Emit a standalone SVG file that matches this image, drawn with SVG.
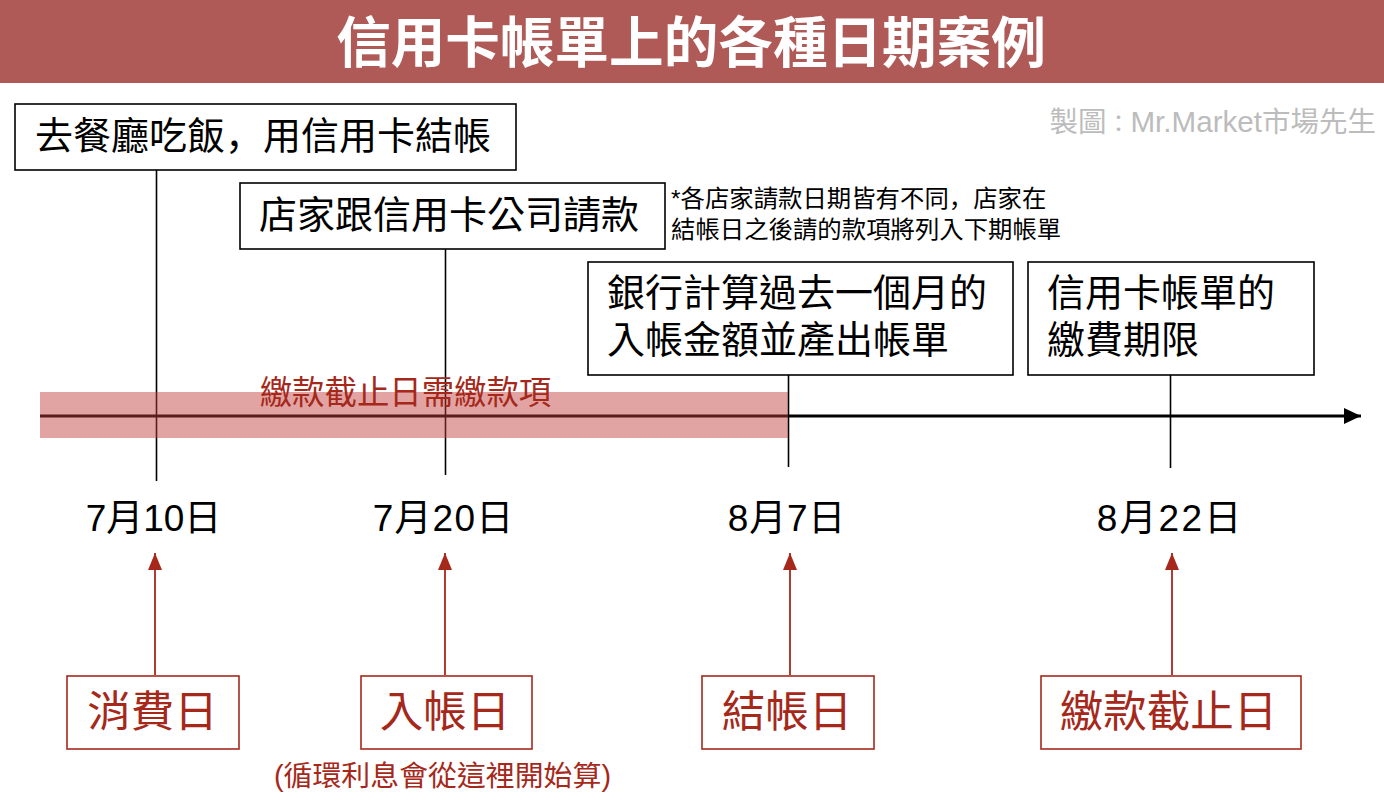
<svg xmlns="http://www.w3.org/2000/svg" width="1384" height="804" viewBox="0 0 1384 804">
<defs>
<marker id="ab" markerUnits="userSpaceOnUse" markerWidth="18" markerHeight="16" refX="17" refY="8" orient="auto"><path d="M0 0L17 8L0 16Z" fill="#000"/></marker>
<marker id="ar" markerUnits="userSpaceOnUse" markerWidth="18" markerHeight="14" refX="17" refY="7" orient="auto"><path d="M0 0L17 7L0 14Z" fill="#a5281b"/></marker>
</defs>
<style>
text{font-family:"Liberation Sans","Noto Sans CJK TC",sans-serif}
.b{fill:#fff;stroke:#000;stroke-width:1.6}
.r{fill:#fff;stroke:#a5281b;stroke-width:1.6}
.t{font-size:38px;fill:#000}
.d{font-size:37px;fill:#000;text-anchor:middle}
.l{font-size:43.500px;fill:#a5281b;text-anchor:middle}
.n{font-size:24.400px;fill:#000}
.k{stroke:#000;stroke-width:1.6;fill:none}
.q{stroke:#a5281b;stroke-width:1.8;fill:none;marker-end:url(#ar)}
.c{font-family:"Noto Sans CJK JP",sans-serif}
</style>
<rect width="1384" height="804" fill="#fff"/>
<g id="title"><rect width="1384" height="83" fill="#b05a57"/><text x="691" y="62" font-size="54.600" font-weight="700" fill="#fff" text-anchor="middle">信用卡帳單上的各種日期案例</text></g>
<text id="credit" x="1376" y="132" font-size="28.500" fill="#bcbcbc" text-anchor="end">製圖<tspan font-size="24">：</tspan><tspan font-size="29.600">Mr.Market</tspan>市場先生</text>
<g id="connectors">
<path d="M40 416H1361" stroke="#000" stroke-width="2.800" fill="none" marker-end="url(#ab)"/>
<path class="k" d="M156.500 170V481"/>
<path class="k" d="M445.500 249V475"/>
<path class="k" d="M788.500 375V467"/>
<path class="k" d="M1170.500 375V468"/>
<path class="q" d="M155 675V553"/>
<path class="q" d="M445 675V553"/>
<path class="q" d="M790 675V553"/>
<path class="q" d="M1172 675V553"/>
</g>
<g id="band"><rect x="40" y="392" width="748" height="46" fill="#bf3e39" fill-opacity="0.470"/><text x="405.500" y="404" font-size="32.400" fill="#a5281b" text-anchor="middle">繳款截止日需繳款項</text></g>
<g id="node-meal"><rect class="b" x="15" y="104" width="501" height="66"/><text class="t" x="35" y="149">去餐廳吃飯<tspan class="c">，</tspan>用信用卡結帳</text></g>
<g id="node-merchant"><rect class="b" x="240" y="183" width="425" height="66"/><text class="t" x="259" y="228">店家跟信用卡公司請款</text></g>
<g id="note"><text class="n" x="671" y="207">*各店家請款日期皆有不同<tspan class="c">，</tspan>店家在</text><text class="n" x="671" y="238">結帳日之後請的款項將列入下期帳單</text></g>
<g id="node-bank"><rect class="b" x="588" y="262" width="425" height="113"/><text class="t" x="607" y="306">銀行計算過去一個月的</text><text class="t" x="607" y="353">入帳金額並產出帳單</text></g>
<g id="node-deadline"><rect class="b" x="1028" y="262" width="286" height="113"/><text class="t" x="1047" y="306">信用卡帳單的</text><text class="t" x="1047" y="353">繳費期限</text></g>
<g id="date-1"><text class="d" x="153.500" y="531">7月10日</text></g>
<g id="date-2"><text class="d" x="443.500" y="531" letter-spacing="1.200">7月20日</text></g>
<g id="date-3"><text class="d" x="787" y="531" letter-spacing="0.800">8月7日</text></g>
<g id="date-4"><text class="d" x="1170" y="531" letter-spacing="2.200">8月22日</text></g>
<g id="node-spend"><rect class="r" x="67" y="676" width="172" height="73"/><text class="l" x="152.500" y="727">消費日</text></g>
<g id="node-post"><rect class="r" x="361" y="676" width="171" height="73"/><text class="l" x="445" y="727">入帳日</text></g>
<g id="node-close"><rect class="r" x="702" y="676" width="172" height="73"/><text class="l" x="787" y="727">結帳日</text></g>
<g id="node-due"><rect class="r" x="1041" y="676" width="260" height="73"/><text class="l" x="1168.500" y="727">繳款截止日</text></g>
<text id="post-note" x="442.500" y="786" font-size="28.900" fill="#a5281b" text-anchor="middle">(循環利息會從這裡開始算)</text>
</svg>
